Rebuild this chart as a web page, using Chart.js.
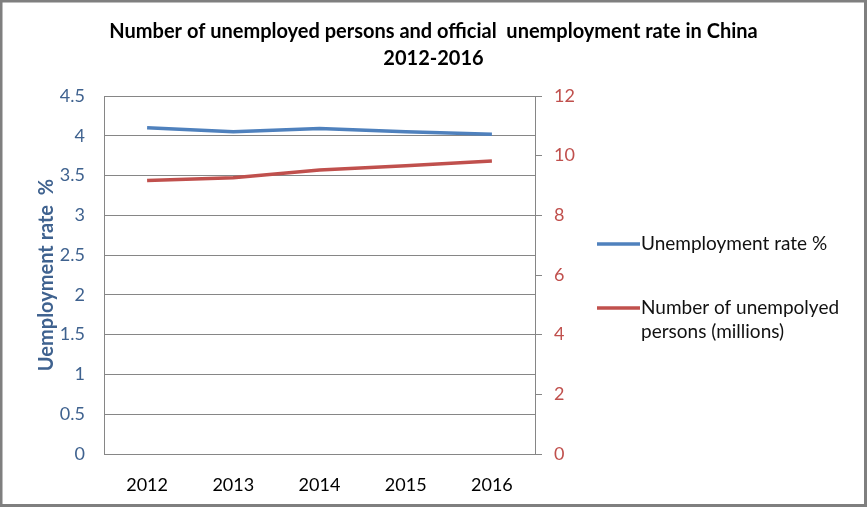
<!DOCTYPE html>
<html>
<head>
<meta charset="utf-8">
<script src="https://cdn.jsdelivr.net/npm/chart.js@4"></script>
<style>
  html, body { margin: 0; padding: 0; background: #fff; }
  #wrap { width: 867px; height: 507px; position: relative; }
</style>
</head>
<body>
<div id="wrap"><canvas id="chart"></canvas></div>
<script>
/* ─── Data ───────────────────────────────────────── */
const YEARS = ["2012", "2013", "2014", "2015", "2016"];
const RATE = [4.1, 4.05, 4.09, 4.05, 4.02];          // unemployment rate %
const PERSONS = [9.17, 9.26, 9.52, 9.66, 9.82];      // millions
const RATE_TICKS = [0, 0.5, 1, 1.5, 2, 2.5, 3, 3.5, 4, 4.5];
const PERSON_TICKS = [0, 2, 4, 6, 8, 10, 12];

const FONT = "Lato, 'Open Sans', sans-serif";
const BLUE = "#4f81bd";
const RED = "#c0504d";
const GRID = "#868686";

/* ─── Frame + legend drawn on the canvas ─────────── */
const framePlugin = {
  id: "frame",
  afterDraw(chart) {
    const ctx = chart.ctx;
    ctx.save();
    ctx.strokeStyle = "#7f7f7f";
    ctx.lineWidth = 3;
    ctx.strokeRect(1, 1, chart.width - 2.5, chart.height - 2.5);
    ctx.restore();
  },
};

const legendPlugin = {
  id: "sideLegend",
  afterDraw(chart) {
    const ctx = chart.ctx;
    const area = chart.chartArea;
    const x0 = area.right + 62;
    const rows = [area.top + 148, area.top + 212];
    ctx.save();
    ctx.font = "19px " + FONT;
    ctx.textBaseline = "middle";
    chart.data.datasets.forEach((ds, i) => {
      const y = rows[i];
      ctx.strokeStyle = ds.borderColor;
      ctx.lineWidth = 3.5;
      ctx.beginPath();
      ctx.moveTo(x0, y);
      ctx.lineTo(x0 + 43, y);
      ctx.stroke();
      // simple word wrap
      const words = ds.label.split(" ");
      const lines = [];
      let cur = "";
      words.forEach((w) => {
        const test = cur ? cur + " " + w : w;
        if (ctx.measureText(test).width > 215 && cur) {
          lines.push(cur);
          cur = w;
        } else cur = test;
      });
      lines.push(cur);
      ctx.fillStyle = "#111";
      lines.forEach((t, j) => ctx.fillText(t, x0 + 44, y + j * 24));
    });
    ctx.restore();
  },
};

const plain = (v) => String(v);

new Chart(document.getElementById("chart"), {
  type: "line",
  data: {
    labels: YEARS,
    datasets: [
      {
        label: "Unemployment rate %",
        data: RATE,
        borderColor: BLUE,
        backgroundColor: BLUE,
        borderWidth: 3.5,
        pointRadius: 0,
        yAxisID: "y",
      },
      {
        label: "Number of unempolyed persons (millions)",
        data: PERSONS,
        borderColor: RED,
        backgroundColor: RED,
        borderWidth: 3.5,
        pointRadius: 0,
        yAxisID: "y2",
      },
    ],
  },
  options: {
    responsive: true,
    maintainAspectRatio: false,
    animation: false,
    layout: { padding: 0 },
    plugins: {
      legend: { display: false },
      tooltip: { enabled: false },
      title: {
        display: true,
        text: [
          "Number of unemployed persons and official  unemployment rate in China",
          "2012-2016",
        ],
        color: "#000",
        font: { family: FONT, size: 20, weight: "bold", lineHeight: 1.35 },
        padding: { top: 18, bottom: 24 },
      },
    },
    scales: {
      x: {
        offset: true,
        grid: { display: false },
        border: { color: GRID },
        ticks: { color: "#000", font: { family: FONT, size: 18 }, padding: 12 },
        afterFit: (s) => { s.height = 53; },
      },
      y: {
        position: "left",
        min: 0,
        max: 4.5,
        afterBuildTicks: (s) => { s.ticks = RATE_TICKS.map((v) => ({ value: v })); },
        grid: { color: GRID, drawTicks: false },
        border: { color: GRID },
        ticks: { color: "#3f628f", font: { family: FONT, size: 18 }, padding: 19, callback: plain },
        title: {
          display: true,
          text: "Uemployment rate  %",
          color: "#3f628f",
          font: { family: FONT, size: 20, weight: "bold" },
          padding: { top: 35, bottom: 0 },
        },
        afterFit: (s) => { s.width = 104; },
      },
      y2: {
        position: "right",
        min: 0,
        max: 12,
        afterBuildTicks: (s) => { s.ticks = PERSON_TICKS.map((v) => ({ value: v })); },
        grid: { drawOnChartArea: false, color: GRID, tickLength: 7 },
        border: { color: GRID },
        ticks: { color: "#c0504d", font: { family: FONT, size: 18 }, padding: 12, callback: plain },
        afterFit: (s) => { s.width = 332; },
      },
    },
  },
  plugins: [legendPlugin, framePlugin],
});
</script>
</body>
</html>
